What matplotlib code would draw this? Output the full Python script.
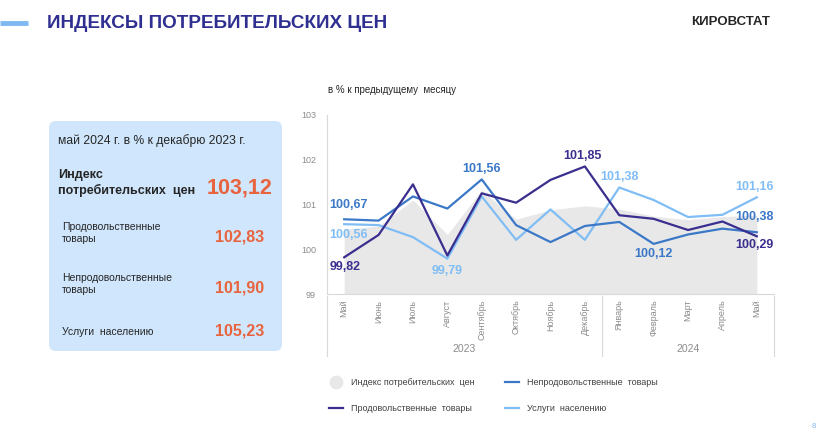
import matplotlib.pyplot as plt
from matplotlib.patches import FancyBboxPatch
from matplotlib.lines import Line2D

plt.rcParams['font.family'] = ['Liberation Sans', 'DejaVu Sans']

# Data (в % к предыдущему месяцу)
months = ['Май', 'Июнь', 'Июль', 'Август', 'Сентябрь', 'Октябрь', 'Ноябрь',
          'Декабрь', 'Январь', 'Февраль', 'Март', 'Апрель', 'Май']
years = ['2023', '2024']
cpi = [100.45, 100.52, 101.10, 100.33, 101.32, 100.67, 100.88, 100.97,
       100.90, 100.74, 100.66, 100.73, 100.76]
food = [99.82, 100.32, 101.45, 99.86, 101.25, 101.04, 101.55, 101.85,
        100.76, 100.68, 100.43, 100.62, 100.29]
nonfood = [100.67, 100.64, 101.18, 100.91, 101.56, 100.54, 100.16, 100.52,
           100.61, 100.12, 100.33, 100.46, 100.38]
services = [100.56, 100.54, 100.27, 99.79, 101.18, 100.21, 100.89, 100.21,
            101.38, 101.10, 100.72, 100.77, 101.16]

# Panel: май 2024 г. в % к декабрю 2023 г.
panel_names = ['Продовольственные\nтовары', 'Непродовольственные\nтовары', 'Услуги  населению']
panel_values = ['102,83', '101,90', '105,23']
cpi_total = '103,12'

c_food = '#3a2e8f'
c_nonfood = '#3b78c8'
c_serv = '#80bdf5'
c_area = '#e8e8e8'
c_orange = '#e8643f'
c_title = '#2e2f91'

fig = plt.figure(figsize=(8.32, 4.32), dpi=100)

# background layer in pixel coordinates
bg = fig.add_axes([0, 0, 1, 1])
bg.set_xlim(0, 832)
bg.set_ylim(432, 0)
bg.axis('off')

bg.plot([0, 28], [22.5, 22.5], color='#80b9f2', lw=3.5, solid_capstyle='butt')
bg.text(47, 24, 'ИНДЕКСЫ ПОТРЕБИТЕЛЬСКИХ ЦЕН', fontsize=13.6, fontweight='bold',
        color=c_title, va='center', ha='left')
bg.text(770, 22, 'КИРОВСТАТ', fontsize=9.5, fontweight='heavy', color='#262626',
        va='center', ha='right')
bg.text(812, 423, '8', fontsize=5.5, color='#80b9f2', va='top', ha='left')

box = FancyBboxPatch((49, 121), 233, 230, boxstyle='round,pad=0,rounding_size=7',
                     facecolor='#cfe6fc', edgecolor='none')
bg.add_patch(box)
bg.text(58, 141, 'май 2024 г. в % к декабрю 2023 г.', fontsize=8.7, color='#262626', va='center')
bg.text(58, 183, 'Индекс\nпотребительских  цен', fontsize=9, fontweight='bold',
        color='#262626', va='center', linespacing=1.35)
bg.text(272, 188, cpi_total, fontsize=15.5, fontweight='bold', color=c_orange,
        va='center', ha='right')
for i, (name, val) in enumerate(zip(panel_names, panel_values)):
    ty = [233, 284, 332][i]
    bg.text(62, ty, name, fontsize=7.5, color='#262626', va='center', linespacing=1.3)
    bg.text(264, [237, 288, 331][i], val, fontsize=11.5, fontweight='bold',
            color=c_orange, va='center', ha='right')

bg.text(328, 90, 'в % к предыдущему  месяцу', fontsize=7, color='#262626', va='center')

# chart
ax = fig.add_axes([327 / 832, 1 - 294 / 432, 447 / 832, 179 / 432])
x = list(range(len(months)))
ax.fill_between(x, 99, cpi, color=c_area, lw=0, zorder=1)
ax.plot(x, services, color=c_serv, lw=1.6, zorder=3)
ax.plot(x, nonfood, color=c_nonfood, lw=1.6, zorder=4)
ax.plot(x, food, color=c_food, lw=1.6, zorder=5)
ax.set_xlim(-0.5, len(months) - 0.5)
ax.set_ylim(99, 103)
ax.set_yticks([99, 100, 101, 102, 103])
ax.set_yticklabels(['99', '100', '101', '102', '103'])
ax.set_xticks(x)
ax.set_xticklabels(months, rotation=90, va='top')
ax.tick_params(axis='both', length=0, labelsize=6.5, labelcolor='#8c8c8c')
ax.tick_params(axis='x', pad=4)
ax.tick_params(axis='y', pad=8)
for s in ['top', 'right']:
    ax.spines[s].set_visible(False)
ax.spines['left'].set_color('#d9d9d9')
ax.spines['bottom'].set_color('#d9d9d9')
ax.patch.set_alpha(0)

tr = ax.get_xaxis_transform()
for xs in [-0.5, 7.5, 12.5]:
    ax.plot([xs, xs], [-0.01, -0.345], color='#d9d9d9', lw=0.8, transform=tr, clip_on=False)
ax.text(3.5, -0.305, years[0], transform=tr, ha='center', va='center', fontsize=7.5, color='#8c8c8c')
ax.text(10, -0.305, years[1], transform=tr, ha='center', va='center', fontsize=7.5, color='#8c8c8c')


def fmt(v):
    return f'{v:.2f}'.replace('.', ',')


labels = [
    (nonfood, 0, c_nonfood, (-15, 14), 'left'),
    (services, 0, c_serv, (-15, -11), 'left'),
    (food, 0, c_food, (-15, -10), 'left'),
    (services, 3, c_serv, (0, -12), 'center'),
    (nonfood, 4, c_nonfood, (0, 10), 'center'),
    (food, 7, c_food, (-2, 10), 'center'),
    (services, 8, c_serv, (0, 10), 'center'),
    (nonfood, 9, c_nonfood, (0, -10), 'center'),
    (services, 12, c_serv, (-2, 10), 'center'),
    (nonfood, 12, c_nonfood, (-2, 15), 'center'),
    (food, 12, c_food, (-2, -9), 'center'),
]
for series, i, col, off, ha in labels:
    ax.annotate(fmt(series[i]), (i, series[i]), xytext=off, textcoords='offset pixels',
                ha=ha, va='center', fontsize=9, fontweight='bold', color=col, zorder=6)

handles = [
    Line2D([], [], marker='o', linestyle='', markersize=9, color=c_area),
    Line2D([], [], color=c_food, lw=1.6),
    Line2D([], [], color=c_nonfood, lw=1.6),
    Line2D([], [], color=c_serv, lw=1.6),
]
names = ['Индекс потребительских  цен', 'Продовольственные  товары',
         'Непродовольственные  товары', 'Услуги  населению']
fig.legend(handles, names, loc='upper left', bbox_to_anchor=(329 / 832, 1 - 378 / 432),
           ncol=2, frameon=False, fontsize=6.5, labelcolor='#404040',
           handlelength=1.6, handletextpad=0.85, columnspacing=3.3, labelspacing=1.9,
           borderaxespad=0, borderpad=0)

fig.savefig('out.png', dpi=100)
